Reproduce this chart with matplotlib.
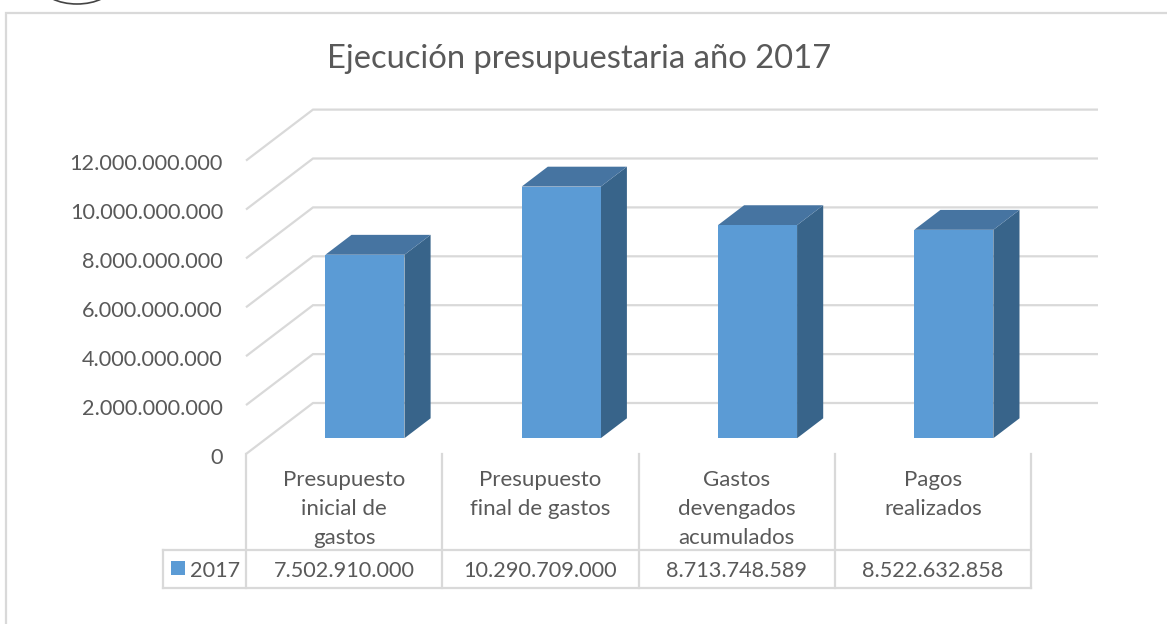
import matplotlib
matplotlib.use('Agg')
import matplotlib.pyplot as plt
from matplotlib.patches import Polygon, Rectangle, Arc

plt.rcParams['font.family'] = ['Lato', 'DejaVu Sans']

titulo = 'Ejecución presupuestaria año 2017'
categorias = ['Presupuesto\ninicial de\ngastos', 'Presupuesto\nfinal de gastos',
              'Gastos\ndevengados\nacumulados', 'Pagos\nrealizados']
valores = [7502910000, 10290709000, 8713748589, 8522632858]
etiquetas_valor = ['7.502.910.000', '10.290.709.000', '8.713.748.589', '8.522.632.858']
ticks = [0, 2000000000, 4000000000, 6000000000, 8000000000, 10000000000, 12000000000]
etiquetas_y = ['0', '2.000.000.000', '4.000.000.000', '6.000.000.000',
               '8.000.000.000', '10.000.000.000', '12.000.000.000']
serie = '2017'

AZUL = '#5B9BD5'
AZUL_TOP = '#4674A1'
AZUL_LADO = '#38648A'
GRIS = '#D9D9D9'
TEXTO = '#595959'

W, H = 1167, 624
PX_X = 196.3        # pixels per category
PX_Y = 24.45e-9     # pixels per unit of value
X0, Y0 = 246.0, 454.0

fig = plt.figure(figsize=(W / 100, H / 100), dpi=100, facecolor='white')
ax = fig.add_axes([0, 0, 1, 1])
ax.set_xlim(-X0 / PX_X, (W - X0) / PX_X)
ax.set_ylim((Y0 - H) / PX_Y, Y0 / PX_Y)
ax.axis('off')


def px(x):
    return (x - X0) / PX_X


def py(y):
    return (Y0 - y) / PX_Y


# oblique offset of the floor: back wall sits this far right and up
DX = 67.0 / PX_X
DY = 51.0 / PX_Y
n = len(categorias)


def prof(x, y, d):
    return (x + DX * d, y + DY * d)


# value gridlines: diagonal on the side wall, then flat on the back wall
for t in ticks:
    ax.plot([0, DX, px(1098)], [t, t + DY, t + DY], color=GRIS, lw=1.6,
            solid_capstyle='butt', solid_joinstyle='miter', zorder=1)

# 3D bars
D_INI, D_FIN = 0.31, 0.70
ANCHO = 0.403
for i, v in enumerate(valores):
    x1 = i + 0.5 - ANCHO / 2
    x2 = i + 0.5 + ANCHO / 2
    cara = [prof(x1, 0, D_INI), prof(x2, 0, D_INI), prof(x2, v, D_INI), prof(x1, v, D_INI)]
    lado = [prof(x2, 0, D_INI), prof(x2, 0, D_FIN), prof(x2, v, D_FIN), prof(x2, v, D_INI)]
    tapa = [prof(x1, v, D_INI), prof(x2, v, D_INI), prof(x2, v, D_FIN), prof(x1, v, D_FIN)]
    ax.add_patch(Polygon(lado, closed=True, fc=AZUL_LADO, ec='none', zorder=3))
    ax.add_patch(Polygon(tapa, closed=True, fc=AZUL_TOP, ec='none', zorder=3))
    ax.add_patch(Polygon(cara, closed=True, fc=AZUL, ec='none', zorder=4))

for t, lab in zip(ticks, etiquetas_y):
    ax.text(px(223), t - 9.5 / PX_Y, lab, ha='right', va='baseline', fontsize=15.6, color=TEXTO)

# data table under the plot
y_top = py(550)
y_bot = py(588)
x_izq = px(163)
for i in range(n + 1):
    ax.plot([i, i], [0, y_bot], color=GRIS, lw=1.6, zorder=1)
ax.plot([x_izq, n], [y_top, y_top], color=GRIS, lw=1.6, zorder=1)
ax.plot([x_izq, n], [y_bot, y_bot], color=GRIS, lw=1.6, zorder=1)
ax.plot([x_izq, x_izq], [y_top, y_bot], color=GRIS, lw=1.6, zorder=1)

for i, (c, e) in enumerate(zip(categorias, etiquetas_valor)):
    ax.text(i + 0.5, py(470), c, ha='center', va='top', fontsize=16,
            color=TEXTO, linespacing=1.57)
    ax.text(i + 0.5, py(577), e, ha='center', va='baseline', fontsize=15.6, color=TEXTO)

# legend key in the table
ax.add_patch(Rectangle((px(171), py(575)), 14 / PX_X, 14 / PX_Y,
                       fc=AZUL, ec='none', zorder=3))
ax.text(px(190), py(577), serie, ha='left', va='baseline', fontsize=15.6, color=TEXTO)

ax.text(px(579), py(68), titulo, ha='center', va='baseline', fontsize=23.6, color=TEXTO)

# chart frame: only top and left edges are visible
ax.plot([px(6), px(6), px(W)], [py(H), py(13), py(13)],
        color=GRIS, lw=1.6, solid_joinstyle='miter')

# bottom of the round emblem above the chart
ax.add_patch(Arc((px(77), py(-14)), 70 / PX_X, 36 / PX_Y,
                 theta1=180, theta2=360, ec='#444444', lw=1.2))

fig.savefig('out.png', dpi=100, facecolor='white')
